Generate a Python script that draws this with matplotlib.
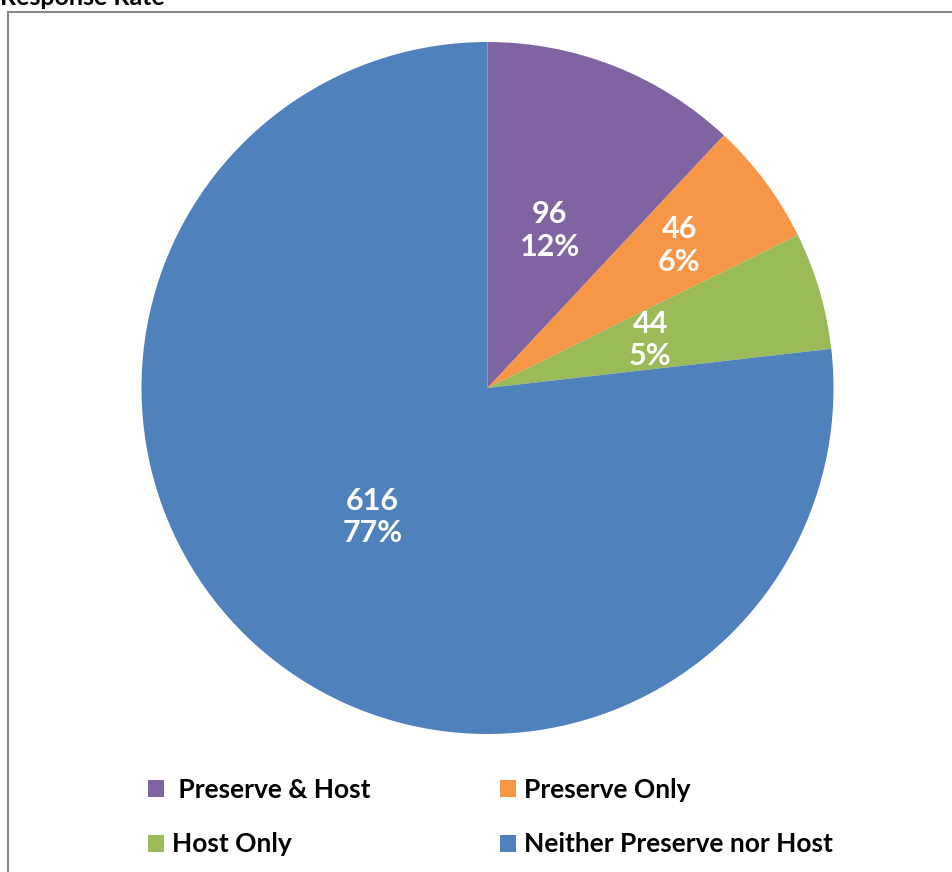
import matplotlib
matplotlib.use("Agg")
import matplotlib.pyplot as plt
from matplotlib.patches import Rectangle, Patch
import numpy as np

plt.rcParams['font.family'] = ['Lato', 'DejaVu Sans']

# Data
categories = ["Preserve & Host", "Preserve Only", "Host Only", "Neither Preserve nor Host"]
counts = [96, 46, 44, 616]
percent_labels = ["12%", "6%", "5%", "77%"]
colors = ["#8064A2", "#F79646", "#9BBB59", "#4F81BD"]
label_radius = [0.49, 0.69, 0.49, 0.50]

W, H = 952, 872
fig = plt.figure(figsize=(W / 100, H / 100), dpi=100)

# outer frame (cut at right/bottom edges)
fig.patches.append(Rectangle((8 / W, -0.05), 1.1, 1 - 12 / H + 0.05, transform=fig.transFigure,
                             fill=False, edgecolor="#8a8a8a", linewidth=1.5))

# title, partially cut off at top like the source image
fig.text(0.0, 1 - 5 / H, "Response Rate", fontsize=18, fontweight="bold", ha="left", va="baseline")

# pie axes
cx, cy, r = 487.5, 388, 346
ax = fig.add_axes([(cx - r) / W, 1 - (cy + r) / H, 2 * r / W, 2 * r / H])
wedges, _ = ax.pie(counts, colors=colors, startangle=90, counterclock=False,
                   radius=1, wedgeprops=dict(linewidth=0))
ax.set_xlim(-1, 1)
ax.set_ylim(-1, 1)
ax.axis("off")

for w, n, p, rr in zip(wedges, counts, percent_labels, label_radius):
    ang = np.deg2rad((w.theta1 + w.theta2) / 2)
    ax.text(rr * np.cos(ang), rr * np.sin(ang), f"{n}\n{p}", ha="center", va="center",
            color="white", fontsize=22, fontweight="bold", linespacing=1.2)

# legend, row-wise order
order = [0, 2, 1, 3]
handles = [Patch(facecolor=colors[i], edgecolor="none") for i in order]
labels = [(" " if i == 0 else "") + categories[i] for i in order]
fig.legend(handles, labels, ncol=2, loc="upper left", bbox_to_anchor=(148 / W, 1 - 778 / H),
           frameon=False, prop=dict(size=19, weight="bold"), handlelength=0.62, handleheight=0.62,
           handletextpad=0.3, columnspacing=4.9, labelspacing=1.15, borderpad=0, borderaxespad=0)

fig.savefig("out.png", dpi=100)
